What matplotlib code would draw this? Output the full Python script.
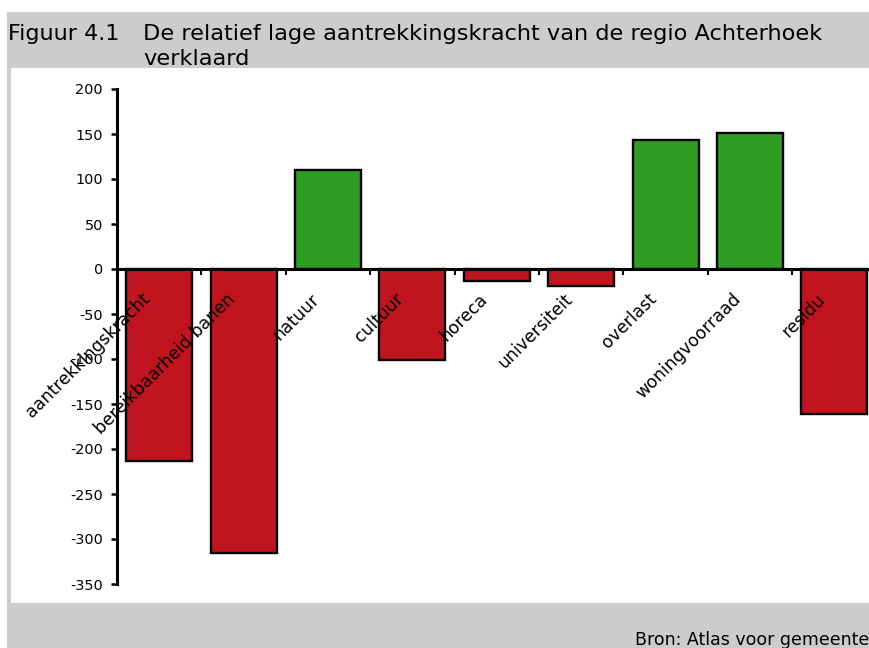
import matplotlib.pyplot as plt
from matplotlib.patches import Rectangle
from matplotlib.transforms import ScaledTranslation
import numpy as np

# Data
categories = ['aantrekkingskracht', 'bereikbaarheid banen', 'natuur', 'cultuur',
              'horeca', 'universiteit', 'overlast', 'woningvoorraad', 'residu']
values = [-213, -316, 110, -101, -13, -19, 143, 151, -161]
yticks = [200, 150, 100, 50, 0, -50, -100, -150, -200, -250, -300, -350]

red = '#C0141E'
green = '#2E9E23'
grey = '#CCCCCC'

plt.rcParams['font.family'] = ['DejaVu Sans']

W, H = 869, 648
fig = plt.figure(figsize=(W / 100, H / 100), dpi=100)

def px(x, y, w, h):
    # pixel box (top-left origin) -> figure fraction
    return [x / W, 1 - (y + h) / H, w / W, h / H]

# header / footer bands and left border
bg = fig.add_axes([0, 0, 1, 1])
bg.set_xlim(0, W)
bg.set_ylim(H, 0)
bg.axis('off')
bg.add_patch(Rectangle((7, 12), W, 56, color=grey, lw=0))
bg.add_patch(Rectangle((7, 603), W, 50, color=grey, lw=0))
bg.add_patch(Rectangle((7, 60), 4, 550, color=grey, lw=0))
bg.text(8, 40, 'Figuur 4.1', fontsize=16, va='baseline')
bg.text(143, 40, 'De relatief lage aantrekkingskracht van de regio Achterhoek',
        fontsize=16.2, va='baseline')
bg.text(143, 65, 'verklaard', fontsize=16.2, va='baseline')
bg.text(635, 645, 'Bron: Atlas voor gemeente', fontsize=12.5, va='baseline')

# chart
ax = fig.add_axes(px(117, 89, 9 * 84.4, 495))
x = np.arange(len(categories)) + 0.5
colors = [green if v > 0 else red for v in values]
ax.bar(x, values, width=0.78, color=colors, edgecolor='black', linewidth=1.7, zorder=2)

ax.set_xlim(0, len(categories))
ax.set_ylim(-350, 200)
ax.set_yticks(yticks)
ax.set_yticklabels([str(t) for t in yticks], fontsize=10.4)

# tick marks between categories, labels at the centres
ax.set_xticks(np.arange(1, len(categories)))
ax.set_xticklabels([])
ax.tick_params(axis='x', direction='out', length=4, width=1.5)
ax.tick_params(axis='y', direction='out', length=4, width=1.8, pad=6)

shift = ax.transData + ScaledTranslation(-0.18, -0.21, fig.dpi_scale_trans)
for xi, name in zip(x, categories):
    ax.text(xi, 0, name, transform=shift, rotation=45, rotation_mode='anchor',
            ha='right', va='top', fontsize=12.4, zorder=5)

for s in ['top', 'right']:
    ax.spines[s].set_visible(False)
ax.spines['bottom'].set_position(('data', 0))
ax.spines['bottom'].set_linewidth(2.2)
ax.spines['bottom'].set_zorder(3)
ax.spines['left'].set_linewidth(2.2)
ax.set_facecolor('none')

plt.savefig('out.png', dpi=100)
